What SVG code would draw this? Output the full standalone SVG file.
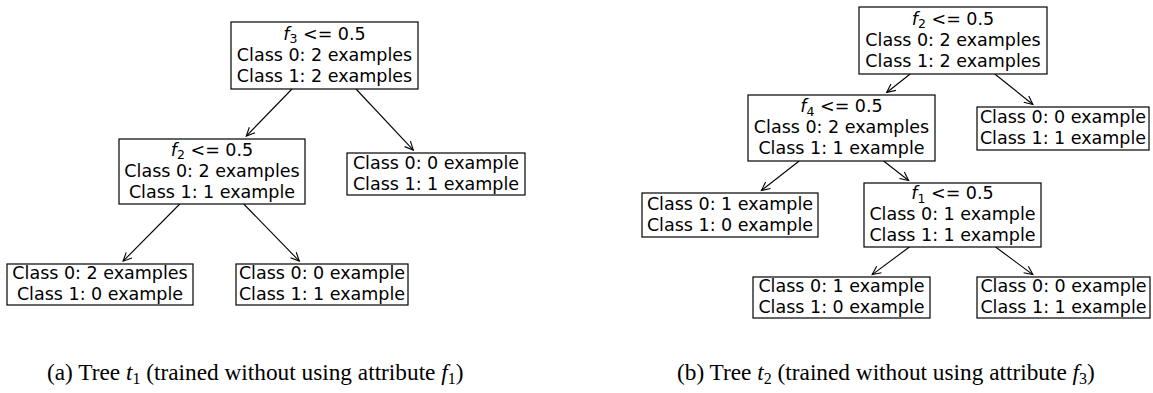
<svg xmlns="http://www.w3.org/2000/svg" width="1153" height="393" viewBox="0 0 1153 393">
<style>
.box{fill:#fff;stroke:#000;stroke-width:1.2}
.t{font-family:"DejaVu Sans",sans-serif;font-size:17.5px;text-anchor:middle;fill:#000}
.it{font-style:italic}
.sub{font-size:12.5px}
.edge{stroke:#000;stroke-width:1.1;fill:none;marker-end:url(#ah)}
.cap{font-family:"Liberation Serif","Times New Roman",serif;font-size:23.3px;fill:#000}
.ci{font-style:italic}
.cs{font-size:16px}
</style>
<defs>
<marker id="ah" markerUnits="userSpaceOnUse" markerWidth="12" markerHeight="10" viewBox="-10 -5 12 10" refX="0" refY="0" orient="auto">
<path d="M-8.5,-4 L0,0 L-8.5,4" fill="none" stroke="#000" stroke-width="1.1"/>
</marker>
</defs>
<rect width="1153" height="393" fill="#fff"/>
<g id="connectors">
<line class="edge" x1="292" y1="89" x2="246.3" y2="136.1"/>
<line class="edge" x1="356" y1="89" x2="413.3" y2="150.1"/>
<line class="edge" x1="179.8" y1="204" x2="123.1" y2="261.2"/>
<line class="edge" x1="243.7" y1="204" x2="299.3" y2="261.1"/>
<line class="edge" x1="910.2" y1="74" x2="886.7" y2="92.5"/>
<line class="edge" x1="994.8" y1="74" x2="1032.9" y2="104.5"/>
<line class="edge" x1="799.2" y1="161" x2="761.4" y2="190.5"/>
<line class="edge" x1="883.6" y1="161" x2="908.6" y2="180.5"/>
<line class="edge" x1="909.4" y1="247" x2="872.2" y2="274.6"/>
<line class="edge" x1="995.6" y1="247" x2="1032.8" y2="274.6"/>
</g>
<g id="a_root">
<rect class="box" x="231" y="22" width="187" height="67"/>
<text class="t" x="324.5" y="39.7"><tspan class="it">f</tspan><tspan class="sub" dy="3.5">3</tspan><tspan dy="-3.5"> &lt;= 0.5</tspan></text>
<text class="t" x="324.5" y="60.6">Class 0: 2 examples</text>
<text class="t" x="324.5" y="81.5">Class 1: 2 examples</text>
</g>
<g id="a_f2">
<rect class="box" x="119" y="139" width="186" height="65"/>
<text class="t" x="212" y="155.7"><tspan class="it">f</tspan><tspan class="sub" dy="3.5">2</tspan><tspan dy="-3.5"> &lt;= 0.5</tspan></text>
<text class="t" x="212" y="176.6">Class 0: 2 examples</text>
<text class="t" x="212" y="197.5">Class 1: 1 example</text>
</g>
<g id="a_right">
<rect class="box" x="347" y="153" width="178" height="42"/>
<text class="t" x="436" y="168.6">Class 0: 0 example</text>
<text class="t" x="436" y="189.5">Class 1: 1 example</text>
</g>
<g id="a_ll">
<rect class="box" x="7" y="264" width="186" height="41"/>
<text class="t" x="100" y="279.1">Class 0: 2 examples</text>
<text class="t" x="100" y="300">Class 1: 0 example</text>
</g>
<g id="a_lr">
<rect class="box" x="236" y="264" width="172" height="41"/>
<text class="t" x="322" y="279.1">Class 0: 0 example</text>
<text class="t" x="322" y="300">Class 1: 1 example</text>
</g>
<g id="b_root">
<rect class="box" x="859" y="7" width="188" height="67"/>
<text class="t" x="953" y="24.7"><tspan class="it">f</tspan><tspan class="sub" dy="3.5">2</tspan><tspan dy="-3.5"> &lt;= 0.5</tspan></text>
<text class="t" x="953" y="45.6">Class 0: 2 examples</text>
<text class="t" x="953" y="66.5">Class 1: 2 examples</text>
</g>
<g id="b_f4">
<rect class="box" x="748" y="95" width="187" height="66"/>
<text class="t" x="841.5" y="112.2"><tspan class="it">f</tspan><tspan class="sub" dy="3.5">4</tspan><tspan dy="-3.5"> &lt;= 0.5</tspan></text>
<text class="t" x="841.5" y="133.1">Class 0: 2 examples</text>
<text class="t" x="841.5" y="154">Class 1: 1 example</text>
</g>
<g id="b_right">
<rect class="box" x="977" y="107" width="172" height="43"/>
<text class="t" x="1063" y="123.1">Class 0: 0 example</text>
<text class="t" x="1063" y="144">Class 1: 1 example</text>
</g>
<g id="b_l">
<rect class="box" x="642" y="193" width="176" height="44"/>
<text class="t" x="730" y="209.6">Class 0: 1 example</text>
<text class="t" x="730" y="230.5">Class 1: 0 example</text>
</g>
<g id="b_f1">
<rect class="box" x="864" y="183" width="177" height="64"/>
<text class="t" x="952.5" y="199.2"><tspan class="it">f</tspan><tspan class="sub" dy="3.5">1</tspan><tspan dy="-3.5"> &lt;= 0.5</tspan></text>
<text class="t" x="952.5" y="220.1">Class 0: 1 example</text>
<text class="t" x="952.5" y="241">Class 1: 1 example</text>
</g>
<g id="b_ll">
<rect class="box" x="753" y="277" width="177" height="41"/>
<text class="t" x="841.5" y="292.1">Class 0: 1 example</text>
<text class="t" x="841.5" y="313">Class 1: 0 example</text>
</g>
<g id="b_lr">
<rect class="box" x="977" y="277" width="173" height="41"/>
<text class="t" x="1063.5" y="292.1">Class 0: 0 example</text>
<text class="t" x="1063.5" y="313">Class 1: 1 example</text>
</g>
<g id="captions">
<text class="cap" x="47" y="380">(a) Tree <tspan class="ci">t</tspan><tspan class="cs" dy="3.5">1</tspan><tspan dy="-3.5"> (trained without using attribute </tspan><tspan class="ci">f</tspan><tspan class="cs" dy="3.5">1</tspan><tspan dy="-3.5">)</tspan></text>
<text class="cap" x="677" y="380">(b) Tree <tspan class="ci">t</tspan><tspan class="cs" dy="3.5">2</tspan><tspan dy="-3.5"> (trained without using attribute </tspan><tspan class="ci">f</tspan><tspan class="cs" dy="3.5">3</tspan><tspan dy="-3.5">)</tspan></text>
</g>
</svg>
